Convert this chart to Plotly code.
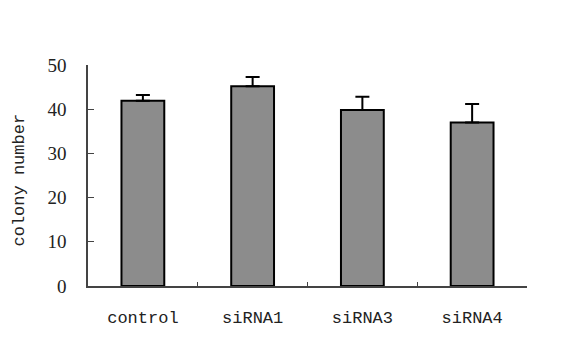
import plotly.graph_objects as go

categories = ["control", "siRNA1", "siRNA3", "siRNA4"]
values = [41.9, 45.2, 39.8, 37.0]
errors = [1.3, 2.1, 3.0, 4.2]
y_ticks = [0, 10, 20, 30, 40, 50]
y_title = "colony number"

fig = go.Figure(go.Bar(
    x=categories, y=values,
    marker=dict(color="#8c8c8c", line=dict(color="black", width=2)),
    width=0.39,
    error_y=dict(type="data", array=errors, symmetric=False, arrayminus=[0]*4,
                 color="black", thickness=2, width=7),
))

fig.update_layout(
    width=565, height=334,
    margin=dict(l=80, r=46, t=57, b=56),
    plot_bgcolor="white", paper_bgcolor="white",
    showlegend=False,
    font=dict(family="Liberation Serif", color="#222", size=14),
)
fig.update_xaxes(
    automargin=False,
    showline=True, linecolor="#444", linewidth=1.5,
    ticks="inside", tickson="boundaries", ticklen=4, tickcolor="#444",
    ticklabelstandoff=15,
    tickfont=dict(family="Liberation Mono", size=17, color="#222"),
    showgrid=False, range=[-0.5, 3.5],
)
fig.update_yaxes(
    automargin=False,
    range=[0, 50], tickvals=y_ticks,
    showline=True, linecolor="#444", linewidth=1.5,
    ticks="inside", ticklen=6, tickcolor="#444",
    showgrid=False, zeroline=False,
    tickfont=dict(family="Liberation Serif", size=19, color="#222"),
    ticklabelstandoff=16,
)
fig.add_annotation(
    text=y_title, xref="paper", yref="paper", x=0, y=0.5,
    xanchor="center", yanchor="middle", xshift=-69, yshift=-5,
    textangle=-90, showarrow=False,
    font=dict(family="Liberation Mono", size=17, color="#222"),
)

fig.write_html("out.html")
